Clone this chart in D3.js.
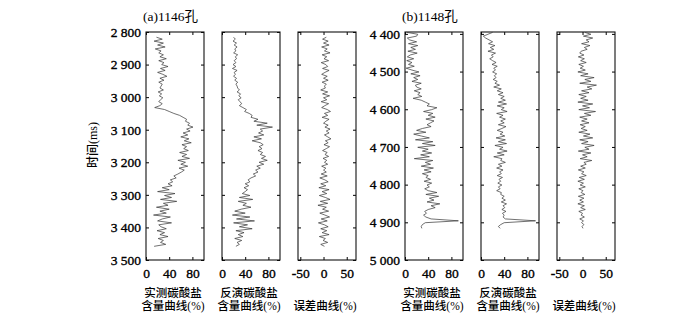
<!DOCTYPE html>
<html>
<head>
<meta charset="utf-8">
<script src="https://cdn.jsdelivr.net/npm/d3@7"></script>
<style>
    body { margin: 0; background: #fff; }
    svg text { font-family: "Liberation Serif", "Times New Roman", "Noto Sans CJK SC", serif; fill: #000; }
    .tick text { stroke: #000; stroke-width: 0.35; }
    .cjk { font-family: "Liberation Serif", "Noto Sans CJK SC", sans-serif; font-weight: 500; }
</style>
</head>
<body>
<div id="graph"></div>
<script>
// 1146孔, sampled every 6 ms from 2816 ms
const aStart = 2816, aStep = 6
const aMeasured = [18, 28, 14, 30, 20, 33, 16, 26, 22,
    30, 24, 35, 22, 31, 27, 38, 25, 33, 20, 29, 36, 24, 31, 22, 28, 26,
    24, 30, 21, 27, 23, 29, 25, 22, 28, 24,
    15,
    32, 40, 48, 58,
    64, 70, 68, 75, 72, 81,
    70, 76, 64, 72, 60, 74, 66, 78, 62, 70, 65, 73,
    58, 70, 62, 75, 55, 68, 60, 72, 57, 66, 61,
    55, 48, 52, 42, 46, 38,
    45, 28, 40, 20, 50, 32, 44, 25, 53, 30, 38,
    18, 40, 24, 35, 13, 42, 28, 20, 44, 22,
    26, 35, 19, 32, 24, 38, 21, 30, 25, 34, 14]
const aInverted = [20, 23, 19, 25, 21, 26, 22, 24, 20, 27, 23, 25, 21, 24,
    19, 24, 18, 26, 21, 23, 20, 25, 22, 27, 24, 26,
    27, 30, 26, 32, 29, 33, 28, 31, 34, 30,
    36, 42, 39, 47, 52,
    50, 62, 55, 78, 60, 87, 66,
    70, 63, 72, 55, 68, 52, 66, 71, 64, 69,
    62, 70, 66, 75, 68, 78, 64, 72, 60, 66,
    58, 62, 54, 58, 50,
    45, 48, 40, 46, 38, 44, 40,
    35, 48, 30, 53, 28, 42, 36, 50, 33,
    22, 40, 18, 48, 25, 56, 20, 44, 30, 52, 24, 38,
    28, 36, 22, 34, 26, 30, 24]
const aError = [6, -2, 10, 0, 12, -4, 8, 2, 14, -3, 7, 1, 11, -5, 5, 9, -2, 12, 3, -4, 8, 0, 10, -3, 6, 2,
    4, -6, 9, -2, 13, 0, 7, -5, 11, 3, -4, 8, 15, 2, 9, -3, 12, 5, 0, 10, 3, 14,
    6, 12, 2, 9, 16, 4, 10, 1, 13, 6, -2, 8, 3, 11, -1, 7, 2, 9, -4, 5, 0, 6,
    -5, 8, -8, 3, 10, -6, 5, -10, 12, -3, 7, -9, 4, 14, -7, 9, -12, 6, -2, 11,
    -8, 3, 13, -5, 8, -11, 2, 10, -6, 7, -3, 12, -9, 4, -1, 9, -6, 2]

// 1148孔, sampled every 5 ms from 4396 ms
const bStart = 4396, bStep = 5
const bMeasured = [3, 22, 20, 4,
    8, 20, 6, 22, 10, 18, 5, 21, 9,
    4, 15, 3, 12, 6, 16, 2,
    12, 24, 10, 26, 15, 22, 12, 28, 18,
    20, 28, 16, 26, 22, 29, 14,
    28, 35, 42, 38, 55, 46,
    32, 48, 40, 52, 36, 50, 44, 38, 45,
    30, 20, 36, 15, 28,
    42, 18, 48, 30, 52, 22, 40,
    30, 46, 27, 42, 16, 48, 35, 44, 28, 49, 33, 45, 30, 40,
    36, 44, 33, 46, 38, 42, 34,
    40, 55, 36, 58, 42, 50, 38, 60, 45, 52, 40,
    34, 37, 32, 36,
    45, 92, 35,
    30, 28, 29]
const bInverted = [20, 12, 4, 8,
    14, 20, 13, 24, 16, 22, 12, 25, 18, 21, 15,
    20, 26, 19, 28, 22, 25, 20, 27, 23, 26, 21, 28,
    24, 32, 22, 35, 28, 38, 30, 40, 34, 42,
    30, 44, 28, 40, 35, 45, 27, 38, 32, 42,
    34, 40, 30, 43, 36, 28, 38, 33, 41,
    26, 42, 30, 44, 24, 38, 32, 45, 28, 40, 22, 36, 34, 42,
    30, 36, 27, 38, 32, 35, 28, 37, 31, 34, 29, 36, 30, 33, 27, 35,
    34, 40, 36, 42, 35, 44, 38, 41, 36, 43, 37, 40, 38, 42,
    94, 40,
    34, 30, 33]
const bError = [5, 18, 2, 22, 8, 14, -2, 16, 4, 10, -3,
    -6, 3, -9, 4, -4, 8, -8, 2, -5, 6,
    -10, 12, -4, 25, 5, 18, -6, 30, 10, 20, -2, 14, -8, 8,
    -4, 12, -10, 22, 0, 15, -8, 28, 4, 18, -6, 10, -2, 14, -5, 6,
    -3, 10, -8, 16, 2, 22, -6, 12, -2, 25, 5, 14, -9, 18, 0, 10, -5, 20, 3, 8,
    -4, 6, -9, 3, -2, 8, -7, 4, -10, 2, -5, 6, -8, 1, -3, 5, -9, 3, -6, 2,
    -10, 4, -4, 6, -8, 0, -3, 4, -6, 2, -2, 3, -1, 1]

// axes
const aTimeTicks = [2800, 2900, 3000, 3100, 3200, 3300, 3400, 3500]
const bTimeTicks = [4400, 4500, 4600, 4700, 4800, 4900, 5000]
const contentTicks = [0, 40, 80]
const errorTicks = [-50, 0, 50]
const panelTitles = ["(a)1146孔", "(b)1148孔"]
const trackLabels = [["实测碳酸盐", "含量曲线(%)"], ["反演碳酸盐", "含量曲线(%)"], ["误差曲线(%)"]]

const w = 700, h = 324,
    yTop = 32, yBottom = 260,
    boxW = 58

const svg = d3.select("#graph")
    .append("svg")
    .attr("width", w)
    .attr("height", h)

const panels = [
    { title: panelTitles[0], left: [146, 222, 298], domain: [2800, 3500], ticks: aTimeTicks,
        start: aStart, step: aStep, series: [aMeasured, aInverted, aError], yTitle: true },
    { title: panelTitles[1], left: [405, 481, 557], domain: [4395, 5000], ticks: bTimeTicks,
        start: bStart, step: bStep, series: [bMeasured, bInverted, bError], yTitle: false }
]

const thousands = d => {
    const s = String(d)
    return s.slice(0, s.length - 3) + " " + s.slice(-3)
}

panels.forEach(p => {
    const yScale = d3.scaleLinear()
        .domain(p.domain)
        .range([yTop, yBottom])

    svg.append("text") //panel title
        .attr("x", p.left[0] - 3)
        .attr("y", 21)
        .attr("font-size", 13.5)
        .text(p.title)

    p.series.forEach((values, k) => {
        const isError = k == 2
        const x0 = p.left[k]
        const xScale = d3.scaleLinear()
            .domain(isError ? [-55, 70] : [0, 100])
            .range([x0, x0 + boxW])
        const xTicks = isError ? errorTicks : contentTicks

        const g = svg.append("g")

        g.append("g") //bottom axis with labels
            .attr("transform", `translate(0,${yBottom})`)
            .call(d3.axisBottom(xScale).tickValues(xTicks).tickSize(-3).tickPadding(8)
                .tickFormat(d => d < 0 ? "-" + Math.abs(d) : d))
            .call(a => a.select(".domain").remove())
            .call(a => a.selectAll("text").attr("font-size", 13.5).attr("font-family", null))

        g.append("g") //top ticks
            .attr("transform", `translate(0,${yTop})`)
            .call(d3.axisTop(xScale).tickValues(xTicks).tickSize(-3).tickFormat(""))
            .call(a => a.select(".domain").remove())

        const left = d3.axisLeft(yScale).tickValues(p.ticks).tickSize(-3)
        g.append("g")
            .attr("transform", `translate(${x0},0)`)
            .call(k == 0 ? left.tickPadding(5).tickFormat(thousands) : left.tickFormat(""))
            .call(a => a.select(".domain").remove())
            .call(a => a.selectAll("text").attr("font-size", 13.5).attr("font-family", null))

        g.append("g")
            .attr("transform", `translate(${x0 + boxW},0)`)
            .call(d3.axisRight(yScale).tickValues(p.ticks).tickSize(-3).tickFormat(""))
            .call(a => a.select(".domain").remove())

        g.append("rect") //track frame
            .attr("x", x0)
            .attr("y", yTop)
            .attr("width", boxW)
            .attr("height", yBottom - yTop)
            .attr("fill", "none")
            .attr("stroke", "#111")
            .attr("stroke-width", 1.1)

        const line = d3.line()
            .x(d => xScale(d))
            .y((d, i) => yScale(p.start + i * p.step))

        g.append("path")
            .datum(values)
            .attr("d", line)
            .attr("fill", "none")
            .attr("stroke", "#333")
            .attr("stroke-width", 0.7)

        // track labels
        const lines = trackLabels[k]
        lines.forEach((t, j) => {
            g.append("text")
                .attr("class", "cjk")
                .attr("x", x0 + boxW / 2 - 2)
                .attr("y", lines.length == 2 ? 297 + j * 12.5 : 309.5)
                .attr("text-anchor", "middle")
                .attr("font-size", 11.5)
                .text(t)
        })
    })

    if (p.yTitle) {
        svg.append("text") //y-axis title
            .attr("class", "cjk")
            .attr("transform", `translate(97,145) rotate(-90)`)
            .attr("text-anchor", "middle")
            .attr("font-size", 12)
            .text("时间(ms)")
    }
})
</script>
</body>
</html>
